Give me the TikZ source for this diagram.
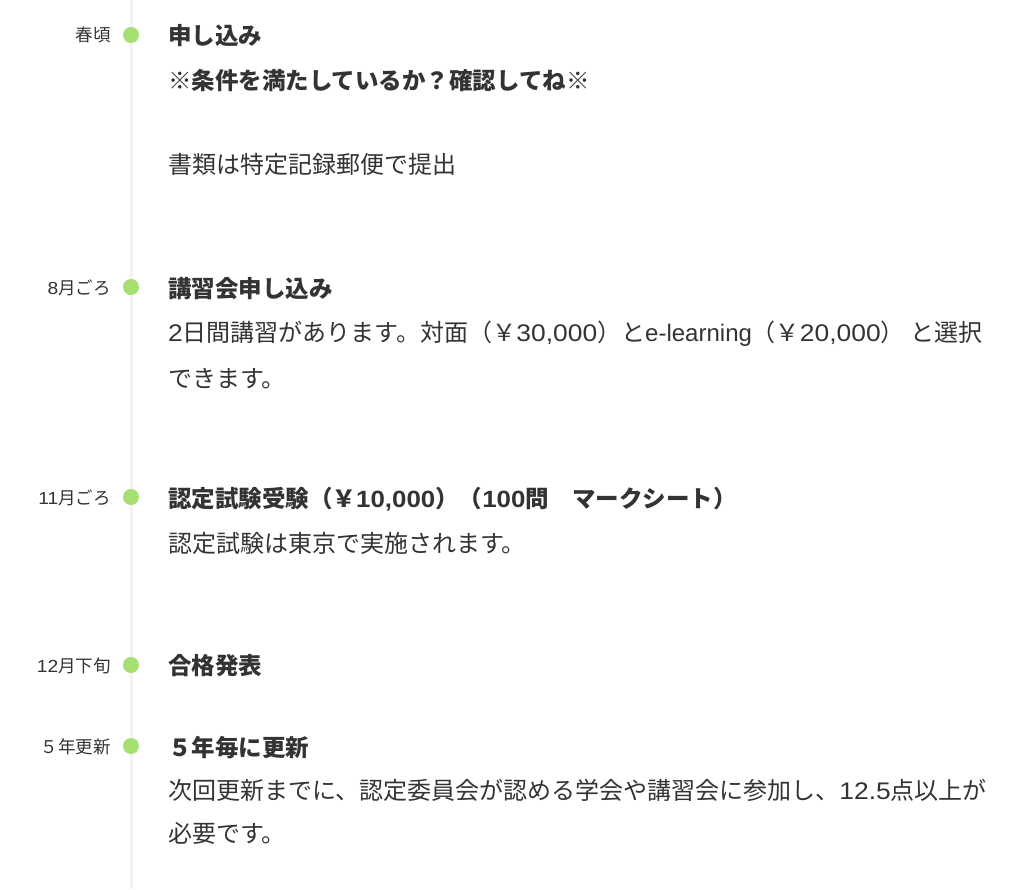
\documentclass[tikz,border=0pt]{standalone}
\usepackage{fontspec}
\setmainfont{Noto Sans CJK JP}
\newfontfamily\latinfont{Liberation Sans}
\newfontfamily\digitfont{Liberation Sans}[FakeStretch=1.1]
\newcommand{\lt}[1]{{\latinfont #1}}
\newcommand{\nb}[1]{{\digitfont #1}}

\definecolor{dotgreen}{RGB}{166,224,112}
\definecolor{linegray}{RGB}{243,243,243}
\definecolor{textgray}{RGB}{51,51,51}

\tikzset{
  datelabel/.style={anchor=base east, inner sep=0pt, text=textgray, font=\fontsize{17.5}{20}\selectfont},
  headtext/.style={anchor=base west, inner sep=0pt, text=textgray, font=\fontsize{23.5}{28}\selectfont\bfseries},
  bodytext/.style={anchor=base west, inner sep=0pt, text=textgray, font=\fontsize{24}{28}\selectfont},
  dot/.style={circle, fill=dotgreen, inner sep=0pt, minimum size=16pt}
}

\begin{document}
\begin{tikzpicture}[x=1pt, y=-1pt]
		\useasboundingbox (0,0) rectangle (1024,889);
		
		% Ligne du temps
		\coordinate (top) at (131,0);
		\coordinate (bottom) at (131,889);
		\draw[linegray, line width=3pt] (top) -- (bottom);
		
		% Printemps
		\node[dot] (d1) at (131,35) {};
		\node[datelabel] (l1) at (111,41) {春頃};
		\node[headtext] (h1) at (168,44) {申し込み};
		\node[headtext] (h1b) at (168,89) {※条件を満たしているか？確認してね※};
		\node[bodytext] (t1) at (168,173) {書類は特定記録郵便で提出};
		
		% Aout
		\node[dot] (d2) at (131,287) {};
		\node[datelabel] (l2) at (111,294) {\nb{8}月ごろ};
		\node[headtext] (h2) at (168,297) {講習会申し込み};
		\node[bodytext] (t2) at (168,341) {\nb{2}日間講習があります。対面（￥\nb{30,000}）と\lt{e-learning}（￥\nb{20,000}） と選択};
		\node[bodytext] (t2b) at (168,387) {できます。};
		
		% Novembre
		\node[dot] (d3) at (131,497) {};
		\node[datelabel] (l3) at (111,504) {\nb{11}月ごろ};
		\node[headtext] (h3) at (168,507) {認定試験受験（￥\nb{10,000}）（\nb{100}問　マークシート）};
		\node[bodytext] (t3) at (168,552) {認定試験は東京で実施されます。};
		
		% Decembre
		\node[dot] (d4) at (131,665) {};
		\node[datelabel] (l4) at (111,672) {\nb{12}月下旬};
		\node[headtext] (h4) at (168,674) {合格発表};
		
		% Renouvellement
		\node[dot] (d5) at (131,746) {};
		\node[datelabel] (l5) at (111,753) {５年更新};
		\node[headtext] (h5) at (168,756) {５年毎に更新};
		\node[bodytext] (t5) at (168,799) {次回更新までに、認定委員会が認める学会や講習会に参加し、\nb{12.5}点以上が};
		\node[bodytext] (t5b) at (168,842) {必要です。};
\end{tikzpicture}
\end{document}
